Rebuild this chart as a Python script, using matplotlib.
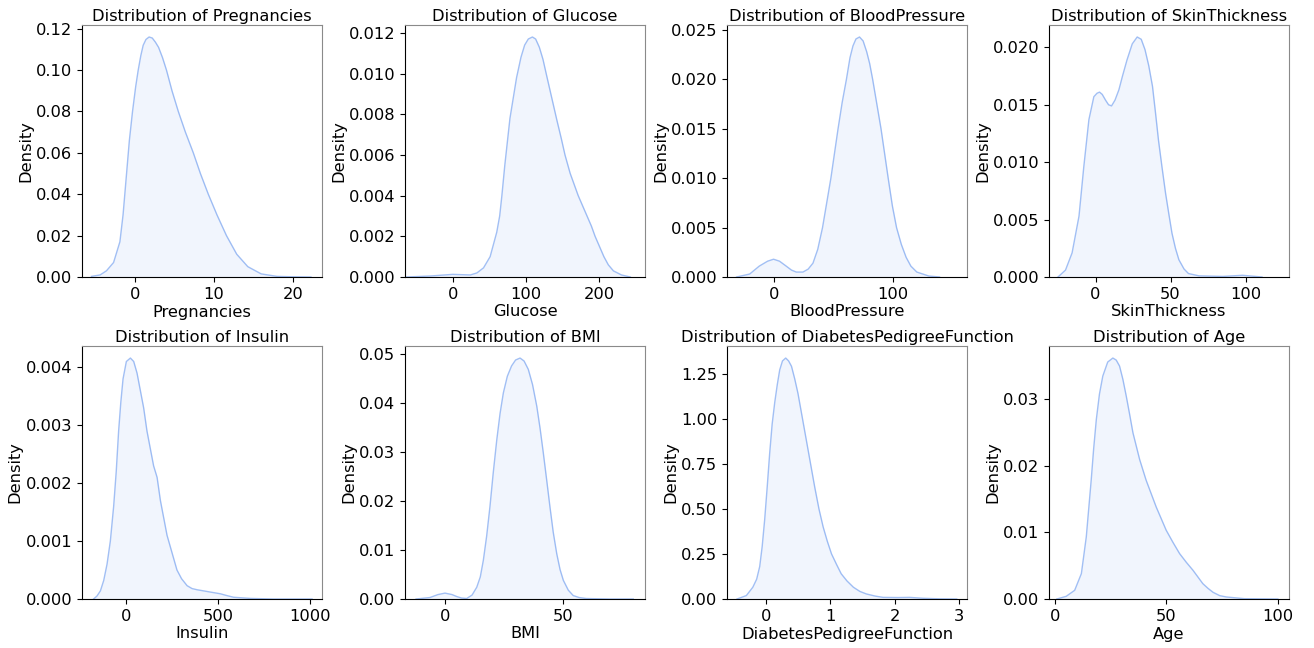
import numpy as np
import matplotlib
matplotlib.use("Agg")
import matplotlib.pyplot as plt

# density curves (x, density)
features = ["Pregnancies", "Glucose", "BloodPressure", "SkinThickness",
            "Insulin", "BMI", "DiabetesPedigreeFunction", "Age"]

preg_x = [-5.5, -4.4, -3.6, -2.7, -1.9, -1.5, -1.1, -0.7, -0.3, 0.1, 0.42, 0.75, 1.05,
          1.4, 1.8, 2.2, 2.6, 3.0, 3.5, 4.0, 4.7, 5.5, 6.4, 7.4, 8.3, 9.3, 10.4,
          11.6, 12.9, 14.3, 16.0, 18.0, 20.0, 22.3]
preg_y = [0.0003, 0.001, 0.003, 0.007, 0.017, 0.03, 0.048, 0.066, 0.08, 0.092, 0.10,
          0.107, 0.112, 0.1148, 0.116, 0.1155, 0.1135, 0.111, 0.106, 0.10, 0.09, 0.08,
          0.07, 0.06, 0.05, 0.04, 0.03, 0.02, 0.011, 0.005, 0.0015, 0.0003, 0.0001, 0.0]

gluc_x = [-63, -30, 0, 24, 33, 42, 51, 60, 64, 67, 71, 78, 87, 93, 98, 103, 108.6,
          113, 118, 123, 128, 135, 142, 148, 153, 160, 166, 171, 177, 183, 189,
          194, 200, 206, 212, 219, 230, 242]
gluc_y = [0.0, 0.00005, 0.00013, 0.0001, 0.0002, 0.00045, 0.001, 0.0022, 0.003, 0.004,
          0.0055, 0.0078, 0.0098, 0.0108, 0.0114, 0.0117, 0.0118, 0.0117, 0.0113,
          0.0107, 0.0099, 0.0088, 0.0077, 0.0068, 0.006, 0.0051, 0.0045, 0.004,
          0.0035, 0.003, 0.0025, 0.002, 0.0015, 0.001, 0.0006, 0.0003, 0.0001, 0.0]

bp_x = [-31, -20, -12, -5, 0, 5, 10.6, 15, 19, 24.6, 29, 33, 37, 41, 44.5, 48, 51,
        54, 57.5, 61, 64, 66.5, 69, 72, 75, 78, 80.5, 83, 86.5, 90, 93, 96, 99.5,
        103, 107, 111, 115, 120, 130, 139]
bp_y = [0.0, 0.0003, 0.0011, 0.0016, 0.0018, 0.0016, 0.0011, 0.0007, 0.0005, 0.0005,
        0.0008, 0.0014, 0.0028, 0.005, 0.0075, 0.010, 0.0125, 0.015, 0.0177, 0.020,
        0.0222, 0.0234, 0.0241, 0.0243, 0.0239, 0.0228, 0.0216, 0.020, 0.0175, 0.015,
        0.0125, 0.010, 0.0072, 0.005, 0.0033, 0.002, 0.0011, 0.0005, 0.0001, 0.0]

skin_x = [-25, -20, -15.6, -11, -7.8, -4.4, -1.1, 1.0, 2.7, 4.5, 6.7, 8.7, 10.7,
          13, 15.6, 18, 21, 24.5, 27.8, 30.5, 33, 35.5, 38, 40, 42, 44.3, 46.7, 49,
          51, 53.3, 55.6, 59, 62, 69, 85, 98, 111]
skin_y = [0.0, 0.0006, 0.0021, 0.0053, 0.0096, 0.0137, 0.0157, 0.016, 0.0161, 0.0159,
          0.0154, 0.015, 0.0149, 0.0154, 0.0163, 0.0175, 0.0189, 0.0203, 0.0209,
          0.0207, 0.0198, 0.0184, 0.0166, 0.0143, 0.0119, 0.0096, 0.0073, 0.0054,
          0.0038, 0.0025, 0.0015, 0.0007, 0.0003, 0.0001, 0.00005, 0.00015, 0.0]

ins_x = [-178, -160, -141, -123, -105, -87, -69, -55, -42, -30, -18, 0, 22, 40, 58,
         76, 94, 112, 130, 148, 167, 185, 203, 221, 239, 257, 275, 300, 330, 357,
         384, 420, 456, 511, 545, 583, 674, 800, 1009]
ins_y = [0.0, 0.00005, 0.00014, 0.00032, 0.0006, 0.001, 0.0016, 0.0022, 0.0029,
         0.0034, 0.0038, 0.0041, 0.00416, 0.0041, 0.0039, 0.0036, 0.0033, 0.0029,
         0.0026, 0.0023, 0.0021, 0.0017, 0.0014, 0.0011, 0.0009, 0.0007, 0.0005,
         0.00035, 0.00023, 0.00018, 0.00016, 0.00014, 0.00012, 0.00009, 0.00006,
         0.00003, 0.00001, 0.0, 0.0]

bmi_x = [-12.3, -6.4, -3, 0, 3, 5, 7, 9.2, 11.5, 13.5, 15, 16.3, 17.7, 19.1, 20.5,
         22, 23.4, 24.8, 26.5, 28.3, 30, 31.9, 33.6, 35.4, 37.2, 39, 40.4, 41.8,
         43.2, 44.6, 46, 47.5, 48.9, 50.3, 52.4, 54.5, 57, 60, 70, 80]
bmi_y = [0.0, 0.0003, 0.0009, 0.0012, 0.0009, 0.0005, 0.0002, 0.0001, 0.0008, 0.0024,
         0.0045, 0.0079, 0.0128, 0.0188, 0.0257, 0.0324, 0.0378, 0.042, 0.0454,
         0.0475, 0.0487, 0.0491, 0.0485, 0.0468, 0.0437, 0.0393, 0.0348, 0.0297,
         0.0243, 0.0188, 0.0136, 0.0092, 0.006, 0.0038, 0.0018, 0.0007, 0.0003,
         0.0001, 0.0, 0.0]

dpf_x = [-0.445, -0.3, -0.2, -0.14, -0.093, -0.055, -0.016, 0.023, 0.062, 0.1,
         0.14, 0.18, 0.217, 0.26, 0.31, 0.355, 0.4, 0.45, 0.5, 0.565, 0.63, 0.695,
         0.76, 0.825, 0.89, 0.955, 1.02, 1.1, 1.17, 1.26, 1.36, 1.46, 1.56, 1.7,
         1.82, 2.05, 2.23, 2.44, 2.7, 2.96]
dpf_y = [0.0, 0.019, 0.065, 0.11, 0.18, 0.29, 0.44, 0.62, 0.81, 0.97, 1.09, 1.19,
         1.27, 1.32, 1.336, 1.32, 1.29, 1.22, 1.14, 1.01, 0.88, 0.75, 0.62, 0.50,
         0.40, 0.32, 0.25, 0.19, 0.14, 0.1, 0.065, 0.042, 0.028, 0.016, 0.009, 0.008,
         0.009, 0.004, 0.001, 0.0]

age_x = [1, 5.2, 9, 12, 14.2, 16.4, 17.5, 18.7, 20.1, 21.6, 23.8, 26.1, 27.6, 29.1,
         30.6, 32.1, 33.6, 35.1, 38.1, 41, 45.5, 50, 53, 56, 59, 62, 64.2, 66.4,
         68.7, 71, 74, 77, 85, 100]
age_y = [0.0, 0.0004, 0.0013, 0.0038, 0.0093, 0.0178, 0.0225, 0.0269, 0.0307,
         0.0334, 0.0355, 0.0361, 0.0358, 0.0349, 0.0329, 0.0304, 0.0277, 0.0249,
         0.0209, 0.0178, 0.0138, 0.0103, 0.0085, 0.0068, 0.0055, 0.0043, 0.0033,
         0.0023, 0.0016, 0.001, 0.0005, 0.0003, 0.00005, 0.0]

curves = [(preg_x, preg_y), (gluc_x, gluc_y), (bp_x, bp_y), (skin_x, skin_y),
          (ins_x, ins_y), (bmi_x, bmi_y), (dpf_x, dpf_y), (age_x, age_y)]

x_limits = [(-6.7, 23.7), (-65, 262), (-39, 162), (-31, 129),
            (-241, 1063), (-17, 85), (-0.6, 3.12), (-2.5, 105)]
x_ticks = [[0, 10, 20], [0, 100, 200], [0, 100], [0, 50, 100],
           [0, 500, 1000], [0, 50], [0, 1, 2, 3], [0, 50, 100]]
y_ticks = [np.arange(0, 0.121, 0.02), np.arange(0, 0.0121, 0.002),
           np.arange(0, 0.0251, 0.005), np.arange(0, 0.0201, 0.005),
           np.arange(0, 0.0041, 0.001), np.arange(0, 0.051, 0.01),
           np.arange(0, 1.26, 0.25), np.arange(0, 0.031, 0.01)]
y_fmt = ["{:.2f}", "{:.3f}", "{:.3f}", "{:.3f}", "{:.3f}", "{:.2f}", "{:.2f}", "{:.2f}"]

fs = 11.7

fig = plt.figure(figsize=(13.14, 6.48), dpi=100)

lefts = [82, 405, 727, 1049]
rows = [(25, 277), (346, 599)]

for i, name in enumerate(features):
    r, c = divmod(i, 4)
    top, bot = rows[r]
    ax = fig.add_axes([lefts[c] / 1314, (648 - bot) / 648, 240 / 1314, (bot - top) / 648])
    xs, ys = curves[i]
    ax.fill_between(xs, ys, 0, color="cornflowerblue", alpha=0.09, linewidth=0)
    ax.plot(xs, ys, color="cornflowerblue", alpha=0.6, linewidth=1)
    ax.set_xlim(*x_limits[i])
    ax.set_ylim(0, max(ys) * 1.05)
    ax.set_xticks(x_ticks[i])
    ax.set_yticks(y_ticks[i])
    ax.set_yticklabels([y_fmt[i].format(v) for v in y_ticks[i]])
    ax.set_title("Distribution of " + name, fontsize=fs, pad=3)
    ax.set_xlabel(name, fontsize=fs, labelpad=2)
    ax.set_ylabel("Density", fontsize=fs, labelpad=2)
    ax.tick_params(labelsize=fs)
    for s in ["top", "right"]:
        ax.spines[s].set_color("#8a8a8a")

fig.savefig("out.png", dpi=100)
